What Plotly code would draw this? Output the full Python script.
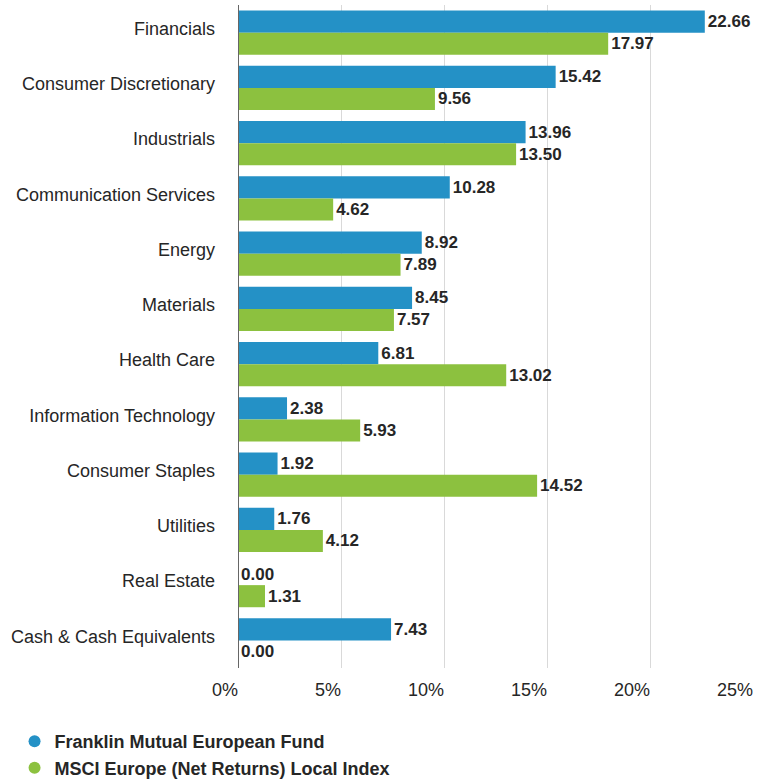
import plotly.graph_objects as go

categories = ["Financials", "Consumer Discretionary", "Industrials", "Communication Services",
              "Energy", "Materials", "Health Care", "Information Technology", "Consumer Staples",
              "Utilities", "Real Estate", "Cash & Cash Equivalents"]
fund_values = [22.66, 15.42, 13.96, 10.28, 8.92, 8.45, 6.81, 2.38, 1.92, 1.76, 0.00, 7.43]
index_values = [17.97, 9.56, 13.50, 4.62, 7.89, 7.57, 13.02, 5.93, 14.52, 4.12, 1.31, 0.00]
series_names = ["Franklin Mutual European Fund", "MSCI Europe (Net Returns) Local Index"]
x_tick_vals = [0, 5, 10, 15, 20, 25]
x_tick_text = ["0%", "5%", "10%", "15%", "20%", "25%"]

BLUE = "#2491c6"
GREEN = "#8cc13f"
TXT = "#262626"
FONT = "Liberation Sans, Arial, sans-serif"

fig = go.Figure()
for vals, color in [(fund_values, BLUE), (index_values, GREEN)]:
    fig.add_trace(go.Bar(
        y=categories, x=vals, orientation="h", marker=dict(color=color, line=dict(width=0)),
        text=[f"{v:.2f}" for v in vals], textposition="outside", constraintext="none",
        cliponaxis=False, textfont=dict(family=FONT, size=17, color=TXT, weight="bold"),
        showlegend=False, hoverinfo="skip"))

for i, (name, color) in enumerate(zip(series_names, [BLUE, GREEN])):
    fig.add_trace(go.Scatter(x=[None], y=[None], mode="markers", name=name,
                             legendgroup=f"g{i}",
                             marker=dict(symbol="circle", size=15, color=color)))

fig.update_layout(
    width=766, height=780,
    margin=dict(l=238, r=13, t=5, b=112, autoexpand=False),
    paper_bgcolor="white", plot_bgcolor="white",
    barmode="group", bargap=0.2, bargroupgap=0,
    font=dict(family=FONT, color=TXT),
    xaxis=dict(range=[0, 25], tickvals=x_tick_vals, ticktext=x_tick_text,
               showgrid=True, gridcolor="#d9d9d9", gridwidth=1, zeroline=False,
               showline=False, ticks="", ticklabelposition="outside left",
               ticklabelstandoff=9, automargin=False,
               tickfont=dict(family=FONT, size=18, color=TXT)),
    yaxis=dict(autorange="reversed", showgrid=False, zeroline=False, ticks="",
               showline=False, ticklabelstandoff=22, ticklabelshift=4, automargin=False,
               tickfont=dict(family=FONT, size=18, color=TXT)),
    legend=dict(xref="container", yref="container", x=0.019, y=0.073,
                xanchor="left", yanchor="top", tracegroupgap=0, itemsizing="constant",
                font=dict(family=FONT, size=18, color=TXT, weight="bold"),
                itemwidth=30),
    shapes=[dict(type="line", xref="x", yref="paper", x0=0, x1=0, y0=0, y1=1,
                 line=dict(color="#666666", width=2))],
)

fig.write_html("out.html", config={"displayModeBar": False},
               post_script="document.body.style.margin='0';")
